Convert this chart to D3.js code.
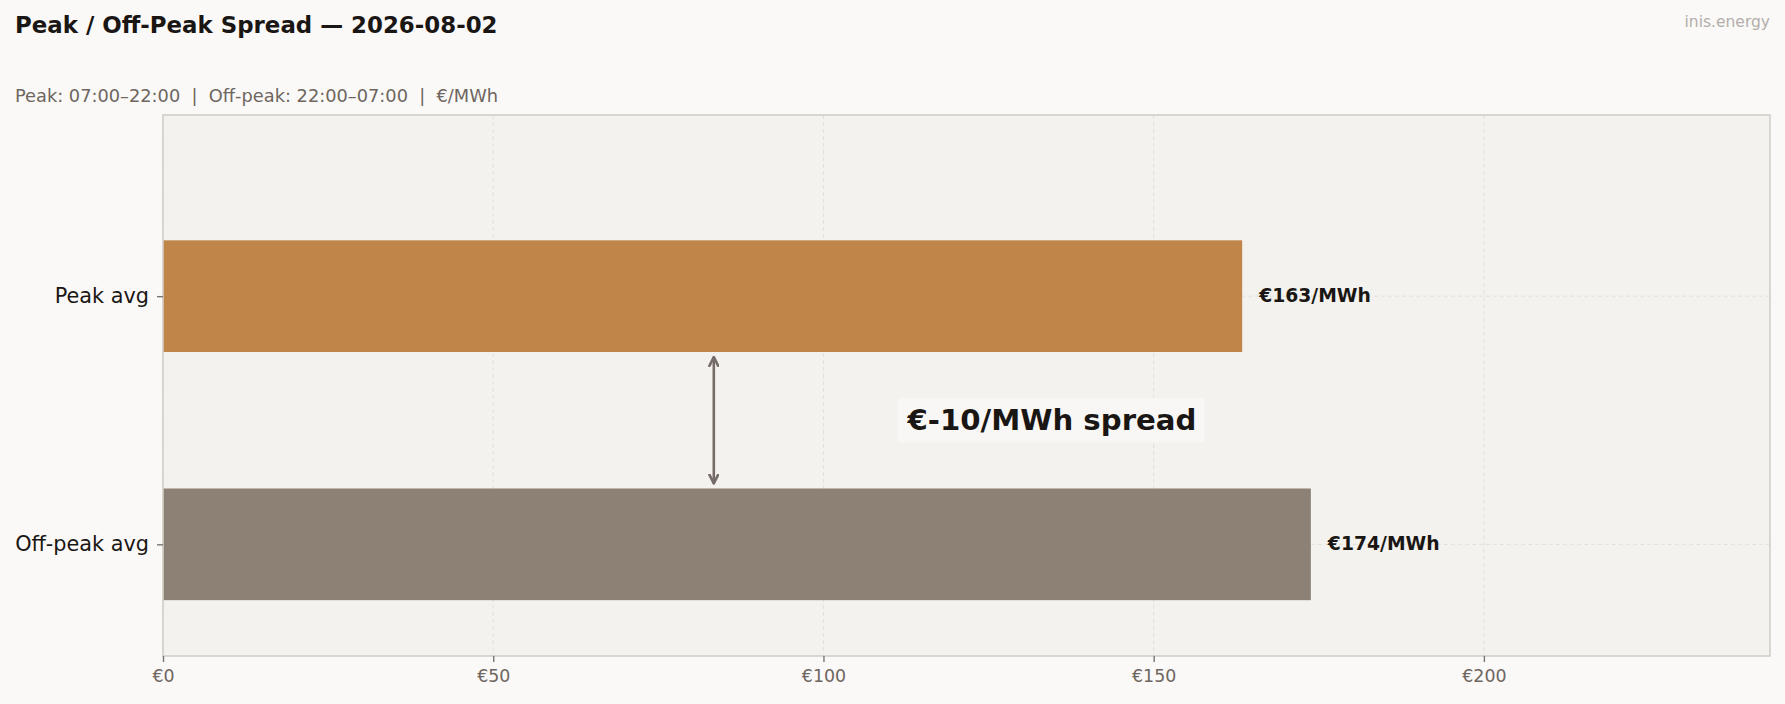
<!DOCTYPE html>
<html>
<head>
<meta charset="utf-8">
<script src="https://cdn.jsdelivr.net/npm/d3@7"></script>
<style>
  html, body { margin: 0; padding: 0; background: #faf9f7; }
  svg { display: block; font-family: "DejaVu Sans", sans-serif; }
  text { white-space: pre; }
</style>
</head>
<body>
<svg id="chart" width="1785" height="704"></svg>
<script>
// ---- data ----
const categories = ["Peak avg", "Off-peak avg"];
const values = [163.4, 173.8];
const barColors = ["#c08548", "#8c8174"];
const xTickValues = [0, 50, 100, 150, 200];
const titleText = "Peak / Off-Peak Spread \u2014 2026-08-02";
const subtitleText = "Peak: 07:00\u201322:00  |  Off-peak: 22:00\u201307:00  |  \u20ac/MWh";
const watermarkText = "inis.energy";
const spreadValue = Math.round(values[0] - values[1]);
const spreadLabel = "\u20ac" + spreadValue + "/MWh spread";
const arrowX = 83.4;
const labelX = 134.6;

// ---- layout ----
const W = 1785, H = 704;
const plot = { left: 163, right: 1770, top: 115, bottom: 656 };
const svg = d3.select("#chart");

svg.append("rect").attr("width", W).attr("height", H).attr("fill", "#faf9f7");

const x = d3.scaleLinear().domain([0, d3.max(values) * 1.4]).range([plot.left, plot.right]);
const y = d3.scaleLinear().domain([-0.45, 1.73]).range([plot.bottom, plot.top]);
const pos = i => categories.length - 1 - i;
const barH = 0.45;

// plot background
svg.append("rect")
  .attr("x", plot.left).attr("y", plot.top)
  .attr("width", plot.right - plot.left).attr("height", plot.bottom - plot.top)
  .attr("fill", "#f3f2ee");

// grid
const grid = svg.append("g");
grid.selectAll("line.vx").data(xTickValues).join("line")
  .attr("x1", d => x(d)).attr("x2", d => x(d))
  .attr("y1", plot.top).attr("y2", plot.bottom)
  .attr("stroke", "#e3e0db").attr("stroke-width", 1).attr("stroke-dasharray", "4,3");
grid.selectAll("line.hy").data(categories).join("line")
  .attr("x1", plot.left).attr("x2", plot.right)
  .attr("y1", (d, i) => y(pos(i))).attr("y2", (d, i) => y(pos(i)))
  .attr("stroke", "#e3e0db").attr("stroke-width", 1).attr("stroke-dasharray", "4,3");

// bars
svg.append("g").selectAll("rect").data(values).join("rect")
  .attr("x", x(0))
  .attr("y", (d, i) => y(pos(i) + barH / 2))
  .attr("width", d => x(d) - x(0))
  .attr("height", (d, i) => y(pos(i) - barH / 2) - y(pos(i) + barH / 2))
  .attr("fill", (d, i) => barColors[i]);

// value labels
svg.append("g").selectAll("text").data(values).join("text")
  .attr("x", d => x(d) + 17)
  .attr("y", (d, i) => y(pos(i)))
  .attr("dy", "0.3em")
  .attr("font-size", 18.75).attr("font-weight", "bold").attr("fill", "#1a1614")
  .text(d => "\u20ac" + Math.round(d) + "/MWh");

// spines
svg.append("rect")
  .attr("x", plot.left).attr("y", plot.top)
  .attr("width", plot.right - plot.left).attr("height", plot.bottom - plot.top)
  .attr("fill", "none").attr("stroke", "#d2cec8").attr("stroke-width", 1.6);

// x axis
const xAxis = d3.axisBottom(x).tickValues(xTickValues).tickSize(6).tickPadding(8)
  .tickFormat(d => "\u20ac" + d);
const gx = svg.append("g").attr("transform", `translate(0,${plot.bottom})`).call(xAxis);
gx.select(".domain").remove();
gx.selectAll(".tick line").attr("stroke", "#7a7470").attr("stroke-width", 1.4);
gx.selectAll(".tick text").attr("fill", "#6e6660").attr("font-size", 17.4)
  .attr("font-family", "DejaVu Sans");

// y axis
const yAxis = d3.axisLeft(y).tickValues(categories.map((d, i) => pos(i))).tickSize(6).tickPadding(8)
  .tickFormat(v => categories[categories.length - 1 - v]);
const gy = svg.append("g").attr("transform", `translate(${plot.left},0)`).call(yAxis);
gy.select(".domain").remove();
gy.selectAll(".tick line").attr("stroke", "#7a7470").attr("stroke-width", 1.4);
gy.selectAll(".tick text").attr("fill", "#1a1614").attr("font-size", 20.8)
  .attr("font-family", "DejaVu Sans");

// spread arrow
const defs = svg.append("defs");
["start", "end"].forEach(k => {
  defs.append("marker")
    .attr("id", "arrow-" + k)
    .attr("viewBox", "0 0 10 10").attr("refX", 9).attr("refY", 5)
    .attr("markerWidth", 11).attr("markerHeight", 11)
    .attr("markerUnits", "userSpaceOnUse")
    .attr("orient", k === "start" ? "auto-start-reverse" : "auto")
    .append("path").attr("d", "M1,1 L9,5 L1,9")
    .attr("fill", "none").attr("stroke", "#746c66").attr("stroke-width", 2.4)
    .attr("stroke-linecap", "round").attr("stroke-linejoin", "round");
});
svg.append("line")
  .attr("x1", x(arrowX)).attr("x2", x(arrowX))
  .attr("y1", y(1 - barH / 2) + 5).attr("y2", y(barH / 2) - 5)
  .attr("stroke", "#746c66").attr("stroke-width", 2.6)
  .attr("marker-start", "url(#arrow-start)").attr("marker-end", "url(#arrow-end)");

// spread label with box
const lbl = svg.append("g");
const lt = lbl.append("text")
  .attr("x", x(labelX)).attr("y", y(0.5))
  .attr("dy", "0.34em").attr("text-anchor", "middle")
  .attr("font-size", 29.2).attr("font-weight", "bold").attr("fill", "#1a1614")
  .text(spreadLabel);
const bb = lt.node().getBBox();
lbl.insert("rect", "text")
  .attr("x", bb.x - 8).attr("y", y(0.5) - 22)
  .attr("width", bb.width + 16).attr("height", 44)
  .attr("fill", "#f8f7f5");

// titles
svg.append("text").attr("x", 15).attr("y", 33)
  .attr("font-size", 22.9).attr("font-weight", "bold").attr("fill", "#1a1614")
  .text(titleText);
svg.append("text").attr("x", 15).attr("y", 101.5)
  .attr("font-size", 17.8).attr("fill", "#6e6660")
  .text(subtitleText);
svg.append("text").attr("x", 1770).attr("y", 27).attr("text-anchor", "end")
  .attr("font-size", 15.5).attr("fill", "#b3aeaa")
  .text(watermarkText);
</script>
</body>
</html>
